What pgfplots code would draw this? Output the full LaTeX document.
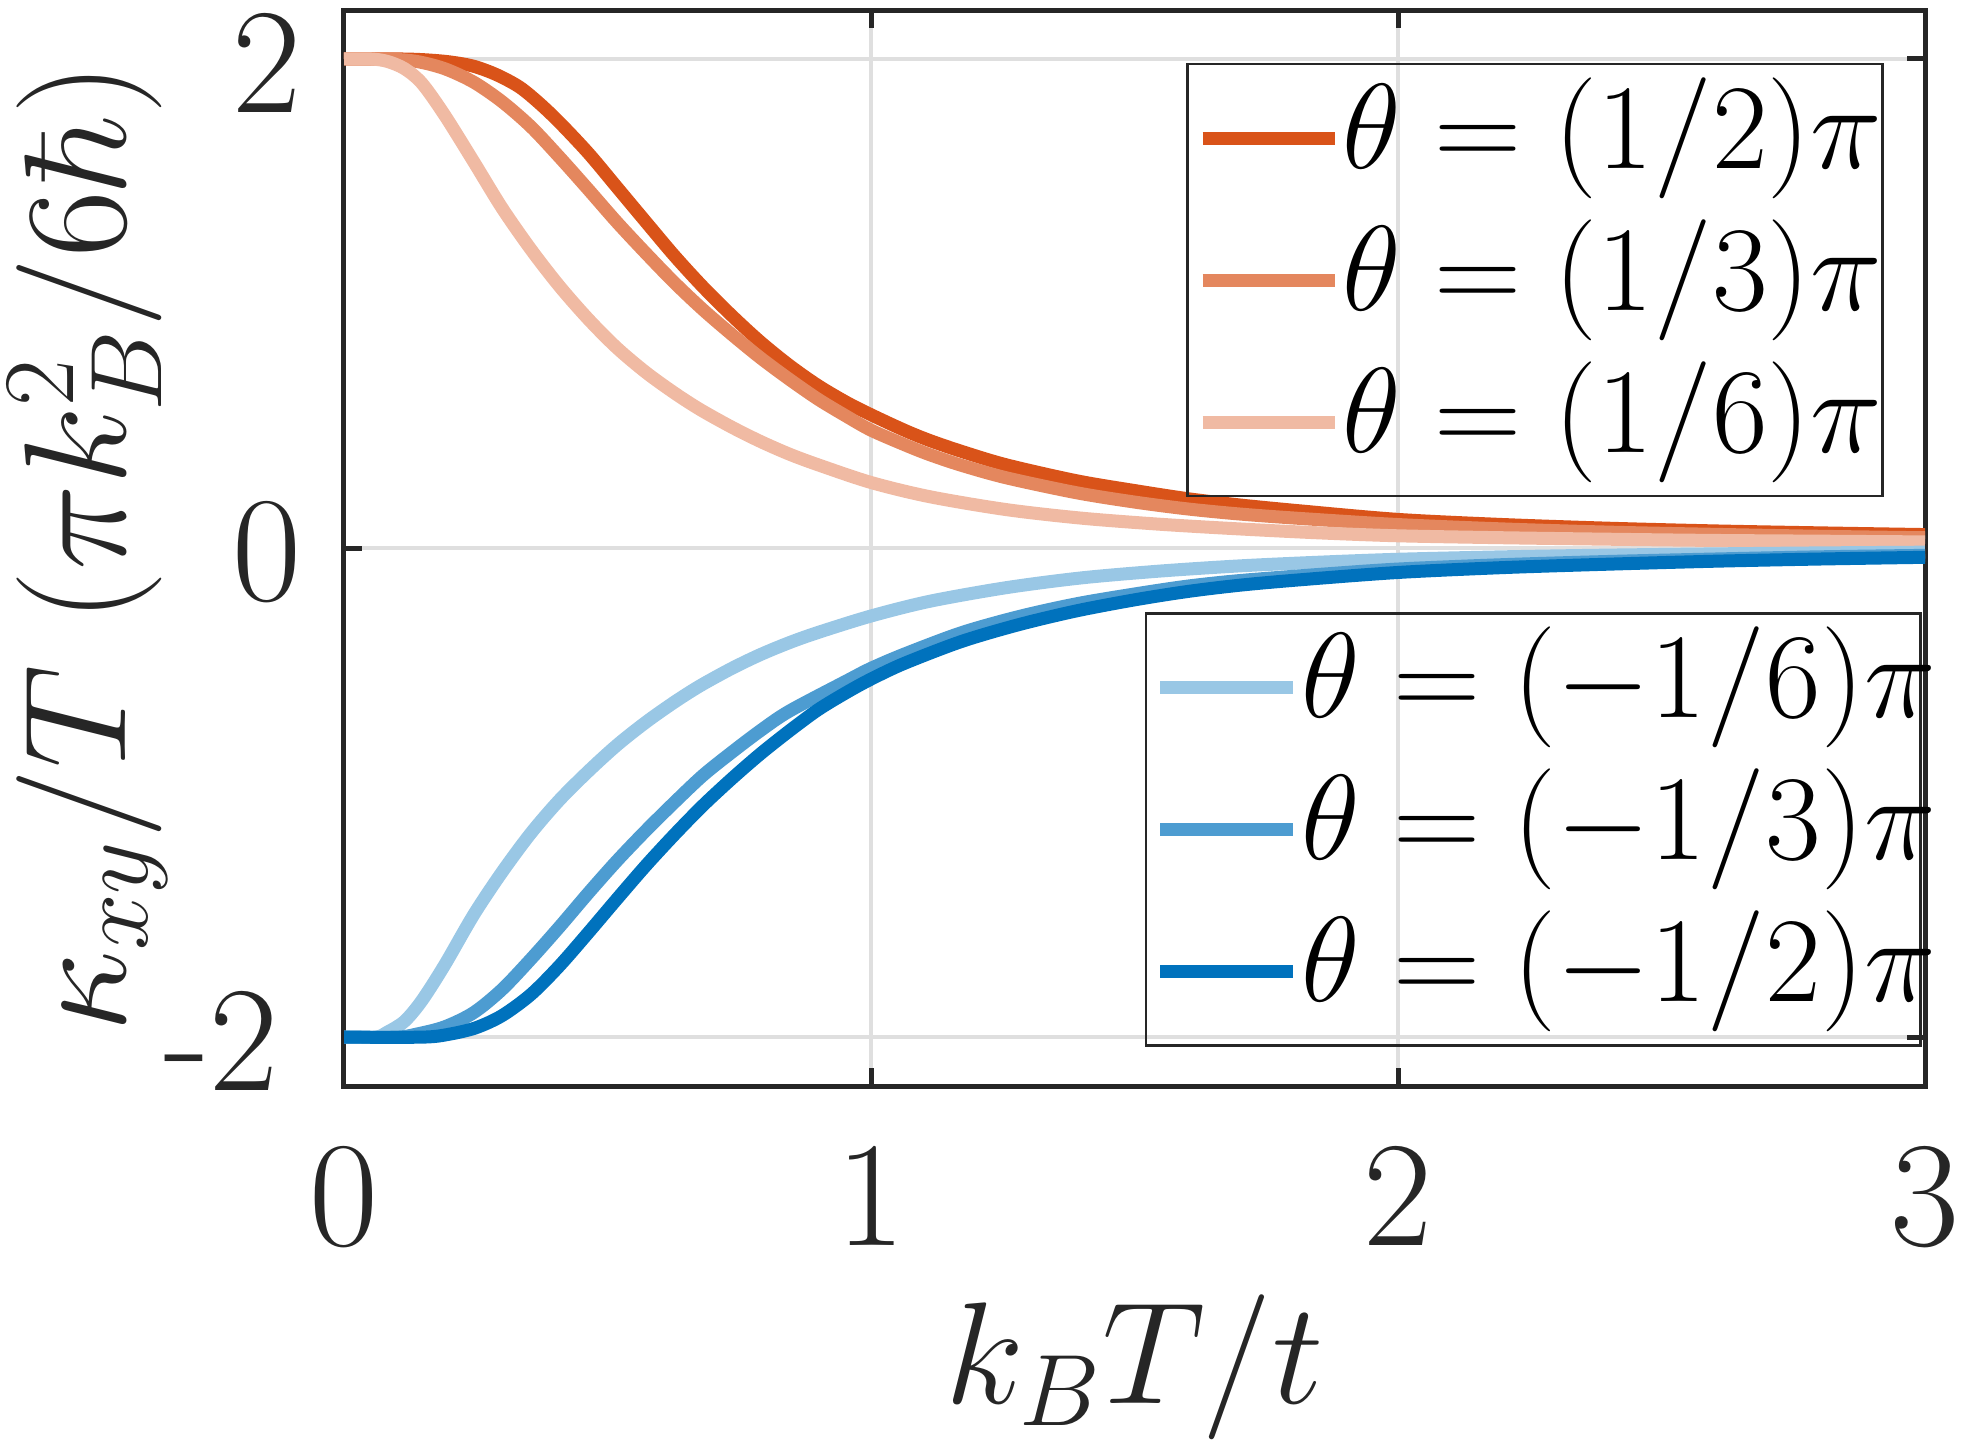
\RequirePackage{fix-cm}
\documentclass[border=0pt]{standalone}
\usepackage[no-math]{fontspec}
\usepackage{pgfplots}
\pgfplotsset{compat=1.18}
\definecolor{rA}{HTML}{D95319}
\definecolor{rB}{HTML}{E4875E}
\definecolor{rC}{HTML}{F0BAA3}
\definecolor{bA}{HTML}{0072BD}
\definecolor{bB}{HTML}{4D9CD1}
\definecolor{bC}{HTML}{99C7E5}
\definecolor{gridc}{HTML}{DFDFDF}
\definecolor{axc}{HTML}{262626}
\pgfplotsset{
  common/.style={
    at={(0,0)}, anchor=south west,
    width=316.2pt, height=215.2pt, scale only axis,
    xmin=0, xmax=3, ymin=-2.2, ymax=2.2,
  },
  curve/.style={line width=2.6pt, smooth, tension=0.5},
}
\begin{document}
\begin{tikzpicture}
\begin{axis}[
  common,
  xtick={0,1,2,3}, ytick={-2,0,2},
  xticklabels={0,1,2,3}, yticklabels={{-2\kern4.5pt},0,2},
  tick align=inside, major tick length=3.6pt,
  xmajorgrids, ymajorgrids,
  major grid style={draw=gridc, line width=0.9pt},
  axis line style={draw=axc, line width=1pt},
  tick style={draw=axc, line width=1pt},
  tick label style={font=\fontsize{30pt}{32pt}\selectfont, text=axc},
  xticklabel style={anchor=north, inner sep=0pt, yshift=-11.8pt},
  yticklabel style={anchor=east, inner sep=0pt, xshift=-8.4pt, yshift=-0.8pt},
  label style={font=\fontsize{29pt}{31pt}\selectfont, text=axc, inner sep=0pt},
  xlabel={$k_BT/t$},
  ylabel={$\kappa_{xy}/T\ (\pi k_B^2/6\hbar)$},
  xlabel style={at={(axis description cs:0.5,-0.2955)}, anchor=base},
  ylabel style={at={(axis description cs:-0.1379,0.5)}, anchor=base},
  legend cell align=left,
  legend style={at={(0.5326,0.9508)}, anchor=north west, draw=axc, line width=0.5pt, fill=none,
    inner xsep=0pt, inner ysep=2.7pt, row sep=4.2pt,
    font=\fontsize{24.2pt}{26pt}\selectfont,
    cells={anchor=west}, nodes={inner sep=0pt, text depth=}},
  legend image code/.code={\path (-1.75pt,0pt) (26.6pt,0pt); \draw[#1] (0pt,0pt) -- (26.4pt,0pt);},
]
\addplot[color=rA, curve] coordinates {
(0.000,2.000) (0.100,2.000) (0.150,1.997) (0.200,1.988) (0.246,1.970) (0.290,1.935)
(0.333,1.885) (0.370,1.820) (0.409,1.740) (0.464,1.614) (0.518,1.475) (0.573,1.333)
(0.627,1.195) (0.681,1.068) (0.736,0.950) (0.790,0.843) (0.845,0.747) (0.899,0.665)
(0.954,0.595) (1.000,0.545) (1.063,0.482) (1.111,0.440) (1.172,0.395) (1.257,0.340)
(1.390,0.275) (1.500,0.235) (1.600,0.202) (1.700,0.176) (1.814,0.152) (2.000,0.117)
(2.200,0.096) (2.400,0.081) (2.600,0.070) (2.800,0.062) (3.000,0.055)};
\addlegendentry{$\theta=(1/2)\pi$}
\addplot[color=rB, curve] coordinates {
(0.000,2.000) (0.080,2.000) (0.137,1.990) (0.191,1.960) (0.246,1.905) (0.300,1.825)
(0.355,1.722) (0.409,1.598) (0.464,1.465) (0.518,1.332) (0.573,1.205) (0.627,1.085)
(0.681,0.975) (0.736,0.873) (0.790,0.778) (0.845,0.690) (0.900,0.608) (0.954,0.538)
(1.000,0.482) (1.063,0.423) (1.111,0.382) (1.172,0.338) (1.257,0.287) (1.390,0.226)
(1.500,0.188) (1.600,0.160) (1.700,0.139) (1.814,0.121) (2.000,0.096) (2.200,0.078)
(2.400,0.065) (2.600,0.056) (2.800,0.048) (3.000,0.042)};
\addlegendentry{$\theta=(1/3)\pi$}
\addplot[color=rC, curve] coordinates {
(0.000,2.000) (0.050,2.000) (0.082,1.990) (0.115,1.960) (0.148,1.900) (0.191,1.770)
(0.246,1.580) (0.300,1.390) (0.355,1.220) (0.409,1.070) (0.464,0.935) (0.518,0.818)
(0.573,0.718) (0.627,0.634) (0.676,0.566) (0.736,0.494) (0.790,0.436) (0.845,0.384)
(0.900,0.340) (1.000,0.268) (1.111,0.210) (1.257,0.157) (1.400,0.122) (1.550,0.097)
(1.700,0.078) (1.850,0.062) (2.000,0.050) (2.200,0.042) (2.400,0.036) (2.600,0.031)
(2.800,0.028) (3.000,0.025)};
\addlegendentry{$\theta=(1/6)\pi$}
\end{axis}
\begin{axis}[
  common, hide axis,
  legend cell align=left,
  legend style={at={(0.5066,0.4405)}, anchor=north west, draw=axc, line width=0.5pt, fill=none,
    inner xsep=0pt, inner ysep=2.7pt, row sep=4.2pt,
    font=\fontsize{24.2pt}{26pt}\selectfont,
    cells={anchor=west}, nodes={inner sep=0pt, text depth=}},
  legend image code/.code={\path (-1.55pt,0pt) (26.85pt,0pt); \draw[#1] (0pt,0pt) -- (26.6pt,0pt);},
]
\addplot[color=bC, curve] coordinates {
(0.000,-2.000) (0.060,-2.000) (0.082,-1.980) (0.115,-1.935) (0.148,-1.850) (0.191,-1.705)
(0.246,-1.500) (0.300,-1.325) (0.355,-1.165) (0.409,-1.030) (0.464,-0.912) (0.518,-0.806)
(0.573,-0.712) (0.627,-0.630) (0.676,-0.563) (0.736,-0.492) (0.790,-0.436) (0.845,-0.387)
(0.900,-0.345) (1.000,-0.278) (1.111,-0.218) (1.257,-0.162) (1.400,-0.122) (1.550,-0.094)
(1.700,-0.073) (1.850,-0.058) (2.000,-0.046) (2.200,-0.036) (2.400,-0.029) (2.600,-0.024)
(2.800,-0.020) (3.000,-0.017)};
\addlegendentry{$\theta=(-1/6)\pi$\kern-3pt}
\addplot[color=bB, curve] coordinates {
(0.000,-2.000) (0.100,-2.000) (0.137,-1.988) (0.191,-1.958) (0.246,-1.900) (0.300,-1.805)
(0.355,-1.680) (0.409,-1.549) (0.464,-1.410) (0.518,-1.279) (0.573,-1.155) (0.627,-1.040)
(0.681,-0.930) (0.736,-0.835) (0.790,-0.747) (0.845,-0.667) (0.954,-0.543) (1.000,-0.492)
(1.063,-0.434) (1.172,-0.346) (1.281,-0.280) (1.390,-0.228) (1.500,-0.188) (1.600,-0.156)
(1.700,-0.133) (1.850,-0.108) (2.000,-0.086) (2.200,-0.068) (2.400,-0.055) (2.600,-0.045)
(2.800,-0.036) (3.000,-0.030)};
\addlegendentry{$\theta=(-1/3)\pi$\kern-3pt}
\addplot[color=bA, curve] coordinates {
(0.000,-2.000) (0.150,-2.000) (0.200,-1.988) (0.250,-1.962) (0.300,-1.912) (0.355,-1.825)
(0.409,-1.708) (0.464,-1.572) (0.518,-1.435) (0.573,-1.298) (0.627,-1.172) (0.681,-1.053)
(0.736,-0.943) (0.790,-0.842) (0.845,-0.748) (0.899,-0.662) (0.954,-0.590) (1.000,-0.536)
(1.063,-0.472) (1.172,-0.382) (1.281,-0.313) (1.390,-0.257) (1.500,-0.212) (1.600,-0.178)
(1.700,-0.152) (1.814,-0.130) (2.000,-0.100) (2.200,-0.080) (2.400,-0.066) (2.600,-0.054)
(2.800,-0.045) (3.000,-0.038)};
\addlegendentry{$\theta=(-1/2)\pi$\kern-3pt}
\end{axis}
\pgfresetboundingbox
\path[use as bounding box] (-68.8pt,-73pt) rectangle (323.6pt,217.2pt);
\end{tikzpicture}
\end{document}
